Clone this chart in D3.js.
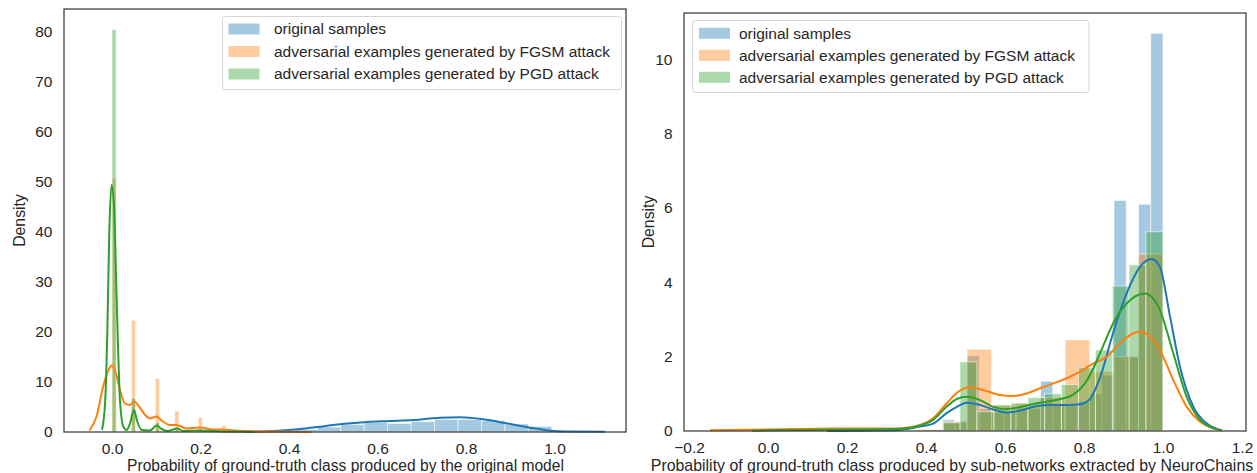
<!DOCTYPE html>
<html>
<head>
<meta charset="utf-8">
<script src="https://cdn.jsdelivr.net/npm/d3@7"></script>
<style>
  html, body { margin: 0; padding: 0; background: #fff; }
  svg { display: block; font-family: "Liberation Sans", Arial, sans-serif; }
</style>
</head>
<body>
<script>
// ---- series labels and colours ----
const seriesNames = [
  "original samples",
  "adversarial examples generated by FGSM attack",
  "adversarial examples generated by PGD attack"
];
const seriesColors = ["#1f77b4", "#ff7f0e", "#2ca02c"];

// ---- left panel: tick labels ----
const leftXTicks = [0.0, 0.2, 0.4, 0.6, 0.8, 1.0];
const leftYTicks = [0, 10, 20, 30, 40, 50, 60, 70, 80];

// left panel histograms (bin start, common bin width, density)
const leftOrigWidth = 0.053;
const leftOrigStart = [0.358, 0.411, 0.464, 0.517, 0.570, 0.623, 0.676, 0.729, 0.782, 0.835, 0.888, 0.941];
const leftOrigDensity = [0.2, 0.5, 1.0, 1.5, 1.9, 1.7, 2.1, 2.5, 2.5, 2.3, 1.6, 1.1];

const leftFgsmWidth = 0.0095;
const leftFgsmStart = [0.0, 0.0438, 0.098, 0.1417, 0.195, 0.2486];
const leftFgsmDensity = [50.8, 22.3, 10.7, 4.2, 2.9, 1.3];

const leftPgdWidth = 0.0095;
const leftPgdStart = [0.0, 0.0438, 0.098, 0.1417, 0.195];
const leftPgdDensity = [80.5, 6.8, 1.9, 0.6, 0.25];

// left panel density curves [x, density]
const leftOrigKde = [[0.30,0.05],[0.35,0.15],[0.40,0.4],[0.425,0.6],[0.47,1.07],[0.515,1.53],[0.576,2.0],[0.628,2.2],[0.681,2.4],[0.741,2.87],[0.786,2.93],[0.839,2.53],[0.892,1.73],[0.945,0.87],[0.99,0.27],[1.027,0.1],[1.114,0.05]];
const leftFgsmKde = [[-0.051,0.3],[-0.035,3.1],[-0.02,9.1],[-0.008,12.4],[0.0,13.3],[0.009,11.7],[0.018,8.4],[0.029,5.7],[0.041,5.4],[0.05,6.1],[0.061,5.1],[0.075,3.4],[0.086,2.7],[0.101,3.1],[0.112,2.3],[0.131,1.4],[0.146,1.4],[0.169,0.7],[0.199,0.9],[0.229,0.5],[0.25,0.5],[0.274,0.3],[0.33,0.1],[0.45,0.02]];
const leftPgdKde = [[-0.0226,0.4],[-0.0155,6],[-0.0106,20],[-0.0061,40],[-0.001,49.4],[0.004,46],[0.0106,26.4],[0.018,6.4],[0.0255,1.1],[0.033,0.4],[0.0407,1.7],[0.0497,4.4],[0.057,2.1],[0.067,0.4],[0.086,0.3],[0.101,1.3],[0.112,0.6],[0.125,0.2],[0.148,0.7],[0.16,0.2],[0.2,0.3],[0.25,0.1],[0.32,0.05]];

// ---- right panel: tick labels ----
const rightXTicks = [-0.2, 0.0, 0.2, 0.4, 0.6, 0.8, 1.0, 1.2];
const rightYTicks = [0, 2, 4, 6, 8, 10];

// right panel histograms
const rightOrigWidth = 0.031;
const rightOrigStart = [0.442, 0.473, 0.504, 0.535, 0.566, 0.597, 0.628, 0.659, 0.690, 0.721, 0.752, 0.783, 0.814, 0.845, 0.876, 0.907, 0.938, 0.969];
const rightOrigDensity = [0.3, 0.25, 2.02, 0.6, 0.5, 0.5, 0.6, 0.6, 1.34, 0.7, 0.7, 0.8, 1.0, 1.5, 6.2, 2.0, 6.1, 10.7];

const rightFgsmWidth = 0.062;
const rightFgsmStart = [0.380, 0.442, 0.504, 0.566, 0.628, 0.690, 0.752, 0.814, 0.876, 0.938];
const rightFgsmDensity = [0.05, 0.25, 2.2, 0.7, 0.75, 0.9, 2.45, 1.6, 2.0, 4.76];

const rightPgdWidth = 0.0428;
const rightPgdStart = [0.401, 0.444, 0.486, 0.529, 0.572, 0.615, 0.658, 0.700, 0.743, 0.786, 0.829, 0.872, 0.914, 0.957];
const rightPgdDensity = [0.03, 0.22, 1.86, 0.52, 0.7, 0.75, 0.9, 1.0, 1.25, 1.7, 2.18, 3.9, 4.47, 5.36];

// right panel density curves [x, density]
const rightOrigKde = [[0.15,0.0],[0.25,0.01],[0.334,0.03],[0.385,0.12],[0.418,0.2],[0.452,0.48],[0.478,0.65],[0.503,0.76],[0.537,0.7],[0.570,0.58],[0.604,0.5],[0.638,0.55],[0.672,0.65],[0.706,0.7],[0.756,0.7],[0.790,0.72],[0.815,0.86],[0.841,1.45],[0.874,2.65],[0.908,3.7],[0.942,4.42],[0.971,4.63],[0.992,4.42],[1.018,3.07],[1.043,1.73],[1.077,0.65],[1.111,0.2],[1.144,0.03]];
const rightFgsmKde = [[-0.147,0.02],[0.0,0.04],[0.157,0.07],[0.3,0.07],[0.334,0.07],[0.385,0.16],[0.418,0.34],[0.452,0.74],[0.478,1.03],[0.511,1.18],[0.545,1.1],[0.587,0.97],[0.621,0.94],[0.655,1.01],[0.689,1.15],[0.722,1.28],[0.756,1.42],[0.790,1.6],[0.824,1.82],[0.858,2.0],[0.891,2.36],[0.925,2.63],[0.942,2.67],[0.967,2.54],[0.992,2.18],[1.026,1.37],[1.060,0.65],[1.094,0.25],[1.127,0.07],[1.144,0.03]];
const rightPgdKde = [[-0.04,0.01],[0.1,0.03],[0.2,0.04],[0.3,0.05],[0.334,0.06],[0.385,0.15],[0.418,0.3],[0.452,0.65],[0.478,0.86],[0.503,0.92],[0.537,0.83],[0.570,0.65],[0.604,0.59],[0.638,0.64],[0.672,0.73],[0.706,0.79],[0.74,0.86],[0.773,0.98],[0.807,1.35],[0.841,2.1],[0.874,2.9],[0.908,3.43],[0.954,3.7],[0.992,3.26],[1.026,2.09],[1.060,0.92],[1.094,0.3],[1.127,0.07],[1.15,0.02]];

const xLabels = [
  "Probability of ground-truth class produced by the original model",
  "Probability of ground-truth class produced by sub-networks extracted by NeuroChains"
];

// ---- drawing ----
const W = 1257, H = 473;
const textColor = "#262626";
const svg = d3.select("body").append("svg").attr("width", W).attr("height", H);

function drawPanel(p) {
  const x = d3.scaleLinear().domain(p.xDomain).range([p.left, p.right]);
  const y = d3.scaleLinear().domain(p.yDomain).range([p.bottom, p.top]);
  const g = svg.append("g");

  // histograms (all bars below all curves)
  p.hists.forEach((h, i) => {
    g.append("g").selectAll("rect").data(h.start.map((s, j) => ({ s, d: h.density[j] })))
      .join("rect")
      .attr("x", d => x(d.s))
      .attr("width", d => x(d.s + h.width) - x(d.s))
      .attr("y", d => y(d.d))
      .attr("height", d => y(0) - y(d.d))
      .attr("fill", seriesColors[i])
      .attr("fill-opacity", 0.4)
      .attr("stroke", "#fff")
      .attr("stroke-opacity", 0.55)
      .attr("stroke-width", 1);
  });

  const line = d3.line().x(d => x(d[0])).y(d => y(d[1])).curve(d3.curveMonotoneX);
  p.kdes.forEach((k, i) => {
    g.append("path").datum(k)
      .attr("d", line)
      .attr("fill", "none")
      .attr("stroke", seriesColors[i])
      .attr("stroke-width", 2)
      .attr("stroke-linejoin", "round");
  });

  // axes
  const xa = g.append("g").attr("transform", `translate(0,${p.bottom})`)
    .call(d3.axisBottom(x).tickValues(p.xTicks).tickFormat(d3.format(".1f")).tickSize(0).tickPadding(11));
  const ya = g.append("g").attr("transform", `translate(${p.left},0)`)
    .call(d3.axisLeft(y).tickValues(p.yTicks).tickFormat(d3.format("d")).tickSize(0).tickPadding(11.5));
  [xa, ya].forEach(a => {
    a.select(".domain").remove();
    a.selectAll("text").attr("font-size", 15.5).attr("fill", textColor)
      .attr("font-family", "'Liberation Sans', Arial, sans-serif");
  });

  // frame
  g.append("rect")
    .attr("x", p.left).attr("y", p.top)
    .attr("width", p.right - p.left).attr("height", p.bottom - p.top)
    .attr("fill", "none").attr("stroke", "#3a3a3a").attr("stroke-width", 1.25);

  // axis titles
  g.append("text")
    .attr("x", p.xLabelX).attr("y", 471)
    .attr("text-anchor", "middle").attr("font-size", p.xLabelSize).attr("fill", textColor)
    .text(p.xLabel);
  g.append("text")
    .attr("transform", `translate(${p.yLabelX},${(p.top + p.bottom) / 2}) rotate(-90)`)
    .attr("text-anchor", "middle").attr("font-size", 15.8).attr("fill", textColor)
    .text("Density");

  // legend
  const L = p.legend;
  const lg = g.append("g");
  lg.append("rect")
    .attr("x", L.x).attr("y", L.y).attr("width", L.w).attr("height", L.h)
    .attr("rx", 3).attr("fill", "#fff").attr("fill-opacity", 0.8)
    .attr("stroke", "#d6d6d6").attr("stroke-width", 1);
  seriesNames.forEach((name, i) => {
    const cy = L.y + L.row0 + i * L.step;
    lg.append("rect")
      .attr("x", L.px).attr("y", cy - 5.5).attr("width", 31).attr("height", 11)
      .attr("fill", seriesColors[i]).attr("fill-opacity", 0.4);
    lg.append("text")
      .attr("x", L.tx).attr("y", cy).attr("dy", "0.35em")
      .attr("font-size", 15.5).attr("fill", textColor)
      .text(name);
  });
}

drawPanel({
  left: 64, right: 626, top: 9, bottom: 432,
  xDomain: [(64 - 112) / 442.5, (626 - 112) / 442.5],
  yDomain: [0, (432 - 9) / 5],
  xTicks: leftXTicks, yTicks: leftYTicks,
  hists: [
    { start: leftOrigStart, width: leftOrigWidth, density: leftOrigDensity },
    { start: leftFgsmStart, width: leftFgsmWidth, density: leftFgsmDensity },
    { start: leftPgdStart, width: leftPgdWidth, density: leftPgdDensity }
  ],
  kdes: [leftOrigKde, leftFgsmKde, leftPgdKde],
  xLabel: xLabels[0], xLabelX: 345.5, xLabelSize: 15.6, yLabelX: 25,
  legend: { x: 222.5, y: 16.5, w: 399, h: 73, row0: 12.5, step: 22.5, px: 228.5, tx: 274 }
});

drawPanel({
  left: 684, right: 1246, top: 13, bottom: 431,
  xDomain: [(684 - 768) / 395, (1246 - 768) / 395],
  yDomain: [0, (431 - 13) / 37.17],
  xTicks: rightXTicks, yTicks: rightYTicks,
  hists: [
    { start: rightOrigStart, width: rightOrigWidth, density: rightOrigDensity },
    { start: rightFgsmStart, width: rightFgsmWidth, density: rightFgsmDensity },
    { start: rightPgdStart, width: rightPgdWidth, density: rightPgdDensity }
  ],
  kdes: [rightOrigKde, rightFgsmKde, rightPgdKde],
  xLabel: xLabels[1], xLabelX: 952, xLabelSize: 15.9, yLabelX: 654,
  legend: { x: 692.5, y: 20.5, w: 396.5, h: 72, row0: 12.8, step: 22, px: 699, tx: 739 }
});
</script>
</body>
</html>
